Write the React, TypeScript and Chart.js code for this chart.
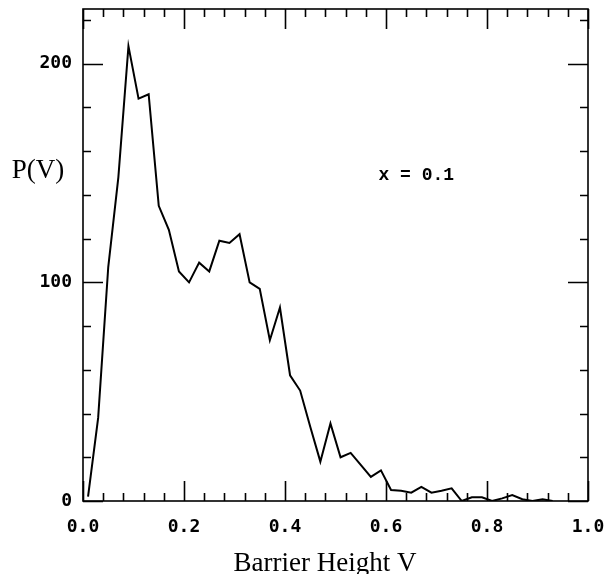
import React, { useEffect, useRef } from "react";
import { Chart, registerables } from "chart.js";
Chart.register(...registerables);

const barrierHeight = [
  0.01, 0.03, 0.05, 0.07, 0.09, 0.11, 0.13, 0.15, 0.17, 0.19,
  0.21, 0.23, 0.25, 0.27, 0.29, 0.31, 0.33, 0.35, 0.37, 0.39,
  0.41, 0.43, 0.45, 0.47, 0.49, 0.51, 0.53, 0.55, 0.57, 0.59,
  0.61, 0.63, 0.65, 0.67, 0.69, 0.71, 0.73, 0.75, 0.77, 0.79,
  0.81, 0.83, 0.85, 0.87, 0.89, 0.91, 0.93,
];
const probability = [
  2, 38, 107, 148, 208, 184, 186, 135, 124, 105,
  100, 109, 105, 119, 118, 122, 100, 97, 73.5, 88.5,
  57.5, 50.5, 34, 18, 35.5, 20, 22, 16.5, 11, 14,
  5, 4.7, 3.8, 6.5, 3.8, 4.7, 5.8, 0, 1.7, 1.7,
  0, 1.2, 2.7, 0.8, 0, 0.8, 0,
];
const xMajorTicks = [0, 0.2, 0.4, 0.6, 0.8, 1.0];
const yMajorTicks = [0, 100, 200];
const xTitle = "Barrier Height V";
const yTitle = "P(V)";
const annotationText = "x = 0.1";
const annotationAt = { x: 0.66, y: 149 };

const framePlugin = {
  id: "frame",
  afterDatasetsDraw(chart: any) {
    const { ctx, chartArea: a, scales } = chart;
    const xs = scales.x;
    const ys = scales.y;
    ctx.save();
    ctx.strokeStyle = "#000";
    ctx.lineWidth = 1.6;
    ctx.strokeRect(a.left, a.top, a.right - a.left, a.bottom - a.top);
    ctx.beginPath();
    for (let i = 0; i <= 25; i++) {
      const v = i * 0.04;
      const px = Math.round(xs.getPixelForValue(v)) + 0.5;
      const len = i % 5 === 0 ? 20 : 8;
      ctx.moveTo(px, a.bottom);
      ctx.lineTo(px, a.bottom - len);
      ctx.moveTo(px, a.top);
      ctx.lineTo(px, a.top + len);
    }
    for (let i = 0; i <= 11; i++) {
      const v = i * 20;
      const py = Math.round(ys.getPixelForValue(v)) + 0.5;
      const len = v % 100 === 0 ? 20 : 8;
      ctx.moveTo(a.left, py);
      ctx.lineTo(a.left + len, py);
      ctx.moveTo(a.right, py);
      ctx.lineTo(a.right - len, py);
    }
    ctx.stroke();
    ctx.fillStyle = "#000";
    ctx.font = '27px "Liberation Serif"';
    ctx.textAlign = "center";
    ctx.textBaseline = "alphabetic";
    ctx.fillText(xTitle, 325, 571);
    ctx.fillText(yTitle, 38, 178);
    ctx.font = 'bold 18px "Liberation Mono"';
    ctx.textBaseline = "middle";
    ctx.fillText(annotationText, xs.getPixelForValue(annotationAt.x), ys.getPixelForValue(annotationAt.y));
    ctx.restore();
  },
};

const zeroPad = (s: any) => {
  s.paddingLeft = 0;
  s.paddingRight = 0;
  s.paddingTop = 0;
  s.paddingBottom = 0;
};

export default function App() {
  const ref = useRef<HTMLCanvasElement>(null);
  useEffect(() => {
    if (!ref.current) return;
    const chart = new Chart(ref.current, {
      type: "line",
      data: {
        datasets: [
          {
            data: barrierHeight.map((v, i) => ({ x: v, y: probability[i] })),
            borderColor: "#000",
            borderWidth: 2,
            pointRadius: 0,
            tension: 0,
            fill: false,
          },
        ],
      },
      options: {
        animation: false,
        responsive: false,
        layout: { padding: { top: 9, right: 17, left: 0, bottom: 0 } },
        plugins: { legend: { display: false }, tooltip: { enabled: false } },
        scales: {
          x: {
            type: "linear",
            min: 0,
            max: 1,
            afterBuildTicks: (s: any) => {
              s.ticks = xMajorTicks.map((v) => ({ value: v }));
            },
            afterFit: (s: any) => {
              s.height = 73;
              zeroPad(s);
            },
            grid: { display: false, drawTicks: false },
            border: { display: false },
            ticks: {
              color: "#000",
              padding: 16,
              maxRotation: 0,
              autoSkip: false,
              font: { family: '"DejaVu Sans Mono"', size: 18, weight: "bold" },
              callback: (v: any) => Number(v).toFixed(1),
            },
          },
          y: {
            type: "linear",
            min: 0,
            max: 225,
            afterBuildTicks: (s: any) => {
              s.ticks = yMajorTicks.map((v) => ({ value: v }));
            },
            afterFit: (s: any) => {
              s.width = 83;
              zeroPad(s);
            },
            grid: { display: false, drawTicks: false },
            border: { display: false },
            ticks: {
              color: "#000",
              padding: 11,
              font: { family: '"DejaVu Sans Mono"', size: 18, weight: "bold" },
              callback: (v: any) => String(v),
            },
          },
        },
      },
      plugins: [framePlugin],
    });
    return () => chart.destroy();
  }, []);
  return (
    <div style={{ position: "absolute", left: 0, top: 0, width: 605, height: 574, background: "#fff" }}>
      <canvas ref={ref} width={605} height={574} />
    </div>
  );
}
